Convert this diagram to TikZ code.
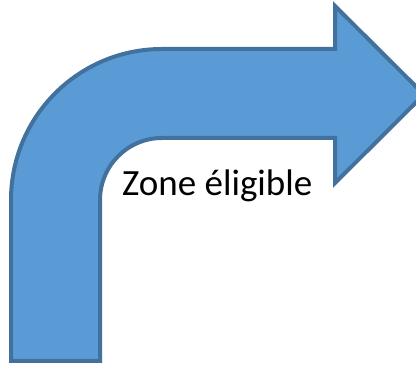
\documentclass[tikz,border=0pt]{standalone}
\usepackage{fontspec}
\setmainfont{Carlito}
\definecolor{arrowfill}{HTML}{5B9BD5}
\definecolor{arrowline}{HTML}{41719C}
\begin{document}
\begin{tikzpicture}[x=1pt,y=1pt,
  bentarrow/.style={fill=arrowfill,draw=arrowline,line width=4pt,line join=miter},
  label/.style={font=\fontsize{37}{42}\selectfont,text=black,inner sep=0pt,anchor=base west}]
\clip (0,0) rectangle (416,366);
\useasboundingbox (0,0) rectangle (416,366);
\fill[white] (0,0) rectangle (416,366);
\draw[bentarrow]
  (11,5) -- (11,166) arc[start angle=180,end angle=90,radius=151]
  -- (335,317) -- (335,360) -- (424,271.5) -- (335,183)
  -- (335,228) -- (162,228) arc[start angle=90,end angle=180,radius=62]
  -- (100,5) -- cycle;
\node[label] (zone) at (122,170) {Zone éligible};
\end{tikzpicture}
\end{document}
